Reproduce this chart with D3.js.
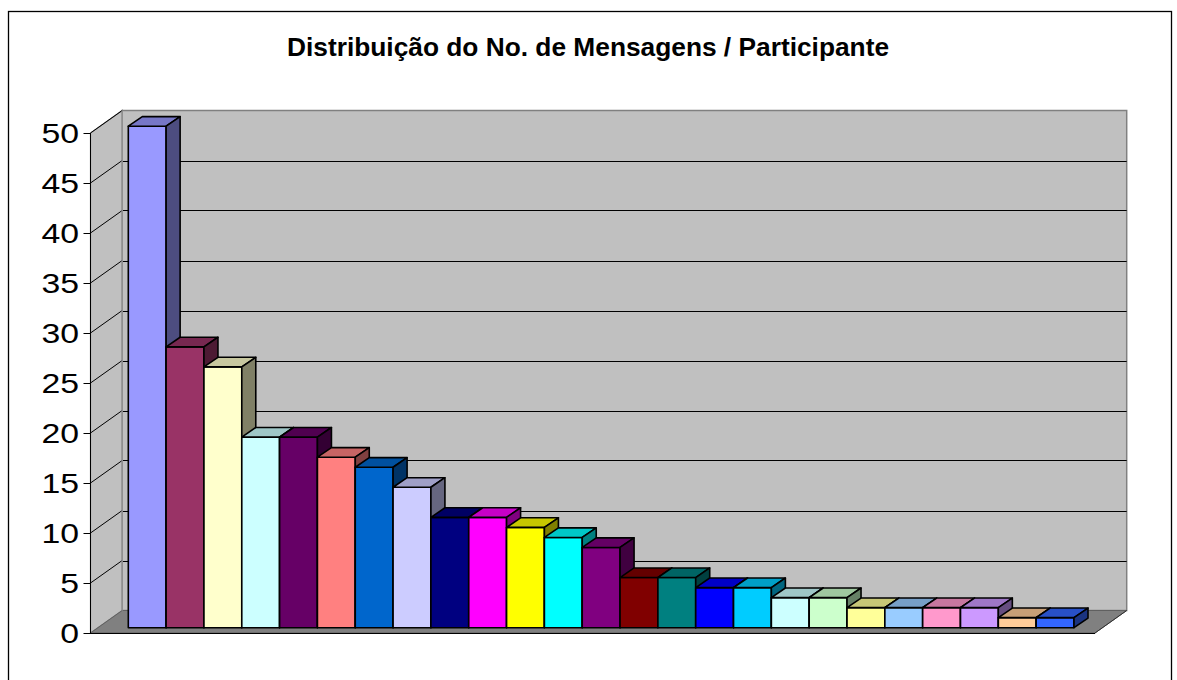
<!DOCTYPE html>
<html>
<head>
<meta charset="utf-8">
<script src="https://cdn.jsdelivr.net/npm/d3@7"></script>
<style>
  html, body { margin: 0; padding: 0; background: #fff; }
  svg { display: block; }
</style>
</head>
<body>
<svg id="chart" width="1177" height="680"></svg>
<script>
// ---- data ----
const title = "Distribuição do No. de Mensagens / Participante";
const participants = d3.range(1, 26).map(i => "P" + i);
const messages = [50, 28, 26, 19, 19, 17, 16, 14, 11, 11, 10, 9, 8, 5, 5, 4, 4, 3, 3, 2, 2, 2, 2, 1, 1];
const barColors = ["#9999FF", "#993366", "#FFFFCC", "#CCFFFF", "#660066", "#FF8080", "#0066CC", "#CCCCFF",
  "#000080", "#FF00FF", "#FFFF00", "#00FFFF", "#800080", "#800000", "#008080", "#0000FF", "#00CCFF",
  "#CCFFFF", "#CCFFCC", "#FFFF99", "#99CCFF", "#FF99CC", "#CC99FF", "#FFCC99", "#3366FF"];
const yTicks = [0, 5, 10, 15, 20, 25, 30, 35, 40, 45, 50];

// ---- layout ----
const svg = d3.select("#chart");
const DX = 31.7, DY = -22.5;        // wall depth
const BDX = 14, BDY = -9.6;         // bar depth
const xFront0 = 90.5, xFront1 = 1095;
const yFront = d3.scaleLinear().domain([0, 50]).range([633, 133]);
const yBack = d3.scaleLinear().domain([0, 50]).range([633 + DY, 133 + DY]);
const yBar = d3.scaleLinear().domain([0, 50]).range([627.7, 126.2]);
const x = d3.scaleBand().domain(participants).range([128.3, 1074]).padding(0);

// outer border
svg.append("rect").attr("x", 8.5).attr("y", 11.5).attr("width", 1163).attr("height", 720)
  .attr("fill", "#fff").attr("stroke", "#000").attr("stroke-width", 1.3);

// title
svg.append("text").attr("x", 588).attr("y", 56).attr("text-anchor", "middle")
  .attr("font-family", "Liberation Sans, Arial, sans-serif").attr("font-weight", "bold")
  .attr("font-size", 26.3).attr("fill", "#000").text(title);

const pts = a => a.map(p => p.join(",")).join(" ");

// back wall
const bx0 = xFront0 + DX, bx1 = xFront1 + DX;
svg.append("polygon")
  .attr("points", pts([[bx0, yBack(0)], [bx1, yBack(0)], [bx1, yBack(50)], [bx0, yBack(50)]]))
  .attr("fill", "#C0C0C0").attr("stroke", "#808080").attr("stroke-width", 1.5);
// left wall
svg.append("polygon")
  .attr("points", pts([[xFront0, yFront(0)], [xFront0, yFront(50)], [bx0, yBack(50)], [bx0, yBack(0)]]))
  .attr("fill", "#C0C0C0").attr("stroke", "#808080").attr("stroke-width", 1.2);
// floor
svg.append("polygon")
  .attr("points", pts([[xFront0, yFront(0)], [xFront1, yFront(0)], [bx1, yBack(0)], [bx0, yBack(0)]]))
  .attr("fill", "#808080").attr("stroke", "#606060").attr("stroke-width", 1);

// gridlines
const grid = svg.append("g").attr("stroke", "#000").attr("stroke-width", 1);
yTicks.filter(v => v > 0 && v < 50).forEach(v => {
  grid.append("line").attr("x1", bx0).attr("x2", bx1)
    .attr("y1", Math.round(yBack(v)) + 0.5).attr("y2", Math.round(yBack(v)) + 0.5);
});
yTicks.filter(v => v > 0).forEach(v => {
  grid.append("line").attr("x1", xFront0).attr("y1", yFront(v)).attr("x2", bx0).attr("y2", yBack(v));
});
// back wall left edge re-stroke
svg.append("line").attr("x1", bx0).attr("x2", bx0).attr("y1", yBack(0)).attr("y2", yBack(50))
  .attr("stroke", "#909090").attr("stroke-width", 1.5);

// axis line, ticks, floor front edge
svg.append("line").attr("x1", xFront0).attr("x2", xFront0).attr("y1", yFront(0)).attr("y2", yFront(50))
  .attr("stroke", "#000").attr("stroke-width", 1);
svg.append("line").attr("x1", xFront0 - 6).attr("x2", xFront1).attr("y1", yFront(0) + 0.5).attr("y2", yFront(0) + 0.5)
  .attr("stroke", "#000").attr("stroke-width", 1.2);
svg.append("line").attr("x1", xFront1).attr("y1", yFront(0)).attr("x2", bx1).attr("y2", yBack(0))
  .attr("stroke", "#303030").attr("stroke-width", 1);

const axis = svg.append("g");
yTicks.forEach(v => {
  const y = Math.round(yFront(v)) + 0.5;
  axis.append("line").attr("x1", xFront0 - 7).attr("x2", xFront0).attr("y1", y).attr("y2", y)
    .attr("stroke", "#000").attr("stroke-width", 1);
  axis.append("text")
    .attr("transform", `translate(79,${yFront(v) + 10.3}) scale(1.19,1)`)
    .attr("text-anchor", "end")
    .attr("font-family", "Liberation Sans, Arial, sans-serif").attr("font-size", 28.4)
    .attr("fill", "#000").text(v);
});

// bars
const shade = (c, k) => { const r = d3.rgb(c); return d3.rgb(r.r * k, r.g * k, r.b * k).toString(); };
const bars = svg.append("g").attr("stroke", "#000").attr("stroke-width", 1.6).attr("stroke-linejoin", "round");
participants.forEach((p, i) => {
  const x0 = x(p), x1 = x(p) + x.bandwidth();
  const yt = yBar(messages[i]), yb = yBar(0);
  const c = barColors[i];
  const g = bars.append("g");
  g.append("polygon").attr("points", pts([[x0, yb], [x1, yb], [x1, yt], [x0, yt]])).attr("fill", c);
  g.append("polygon").attr("points", pts([[x0, yt], [x1, yt], [x1 + BDX, yt + BDY], [x0 + BDX, yt + BDY]]))
    .attr("fill", shade(c, 0.78));
  g.append("polygon").attr("points", pts([[x1, yb], [x1 + BDX, yb + BDY], [x1 + BDX, yt + BDY], [x1, yt]]))
    .attr("fill", shade(c, 0.5));
});
</script>
</body>
</html>
